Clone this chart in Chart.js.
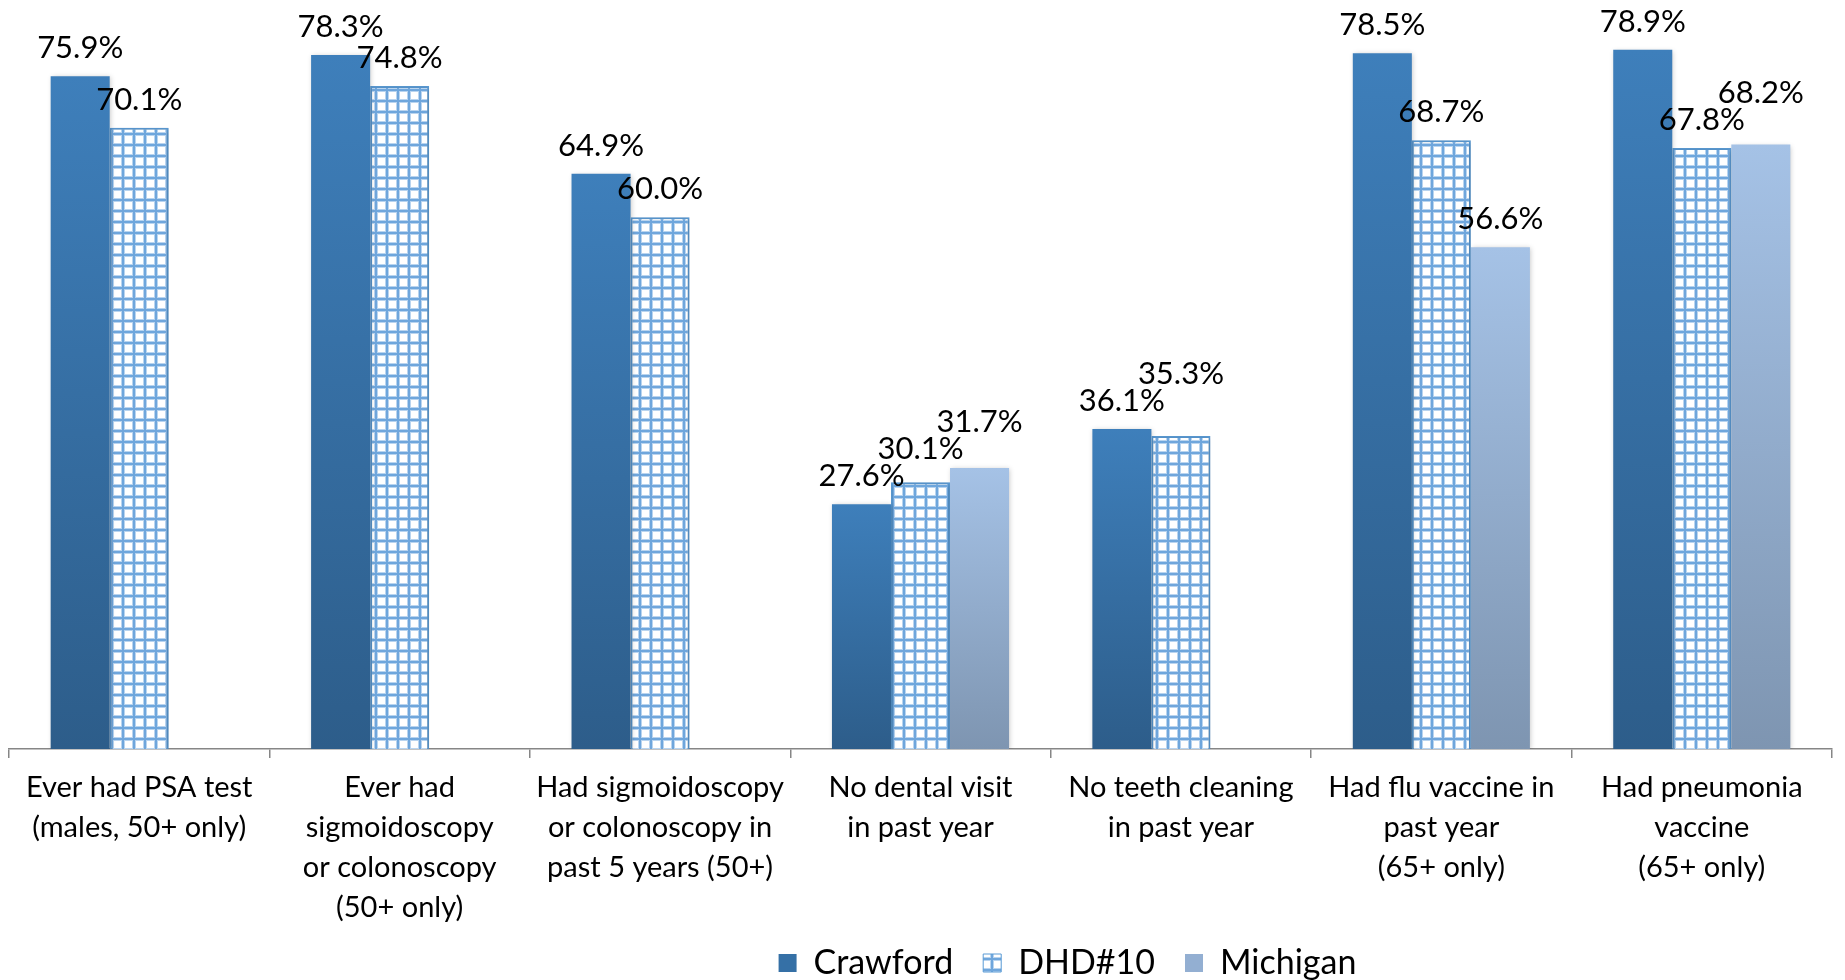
<!DOCTYPE html>
<html>
<head>
<meta charset="utf-8">
<script src="https://cdn.jsdelivr.net/npm/chart.js@4"></script>
<style>
  html, body { margin: 0; padding: 0; background: #fff; }
  #wrap { width: 1845px; height: 980px; }
</style>
</head>
<body>
<div id="wrap"><canvas id="chart" width="1845" height="980"></canvas></div>
<script>
'use strict';

// categories and values
const categories = [
  ['Ever had PSA test', '(males, 50+ only)'],
  ['Ever had', 'sigmoidoscopy', 'or colonoscopy', '(50+ only)'],
  ['Had sigmoidoscopy', 'or colonoscopy in', 'past 5 years (50+)'],
  ['No dental visit', 'in past year'],
  ['No teeth cleaning', 'in past year'],
  ['Had flu vaccine in', 'past year', '(65+ only)'],
  ['Had pneumonia', 'vaccine', '(65+ only)']
];
const seriesNames = ['Crawford', 'DHD#10', 'Michigan'];
const crawford = [75.9, 78.3, 64.9, 27.6, 36.1, 78.5, 78.9];
const dhd10 = [70.1, 74.8, 60.0, 30.1, 35.3, 68.7, 67.8];
const michigan = [null, null, null, 31.7, null, 56.6, 68.2];

const FONT = 'Lato, "Open Sans", sans-serif';
const AXIS_TRIM = 22;

let canvasElem = document.getElementById('chart');
let ctx2d = canvasElem.getContext('2d');

// grid pattern for the DHD#10 bars
function makeGrid() {
  const size = 11;
  const c = document.createElement('canvas');
  c.width = size;
  c.height = size;
  const g = c.getContext('2d');
  g.fillStyle = '#ffffff';
  g.fillRect(0, 0, size, size);
  g.fillStyle = '#b9d4ef';
  g.fillRect(0, 0, 4, size);
  g.fillRect(0, 0, size, 4);
  g.fillStyle = '#6fa6dc';
  g.fillRect(1, 0, 2, size);
  g.fillRect(0, 1, size, 2);
  return ctx2d.createPattern(c, 'repeat');
}
const gridPattern = makeGrid();

// each bar gets its own top-to-bottom gradient
function barGradient(top, bottom) {
  return (ctx) => {
    if (ctx.type !== 'data' || ctx.raw == null) return bottom;
    const y = ctx.chart.scales.y;
    if (!y) return top;
    const g = ctx.chart.ctx.createLinearGradient(0, y.getPixelForValue(ctx.raw), 0, y.getPixelForValue(0));
    g.addColorStop(0, top);
    g.addColorStop(1, bottom);
    return g;
  };
}

const legendFills = ['#3570a6', gridPattern, '#93afd2'];

// soft shadow behind bars
const barShadow = {
  id: 'barShadow',
  beforeDatasetsDraw(chart) {
    const c = chart.ctx;
    c.save();
    c.shadowColor = 'rgba(0,0,0,0.22)';
    c.shadowBlur = 5;
    c.shadowOffsetX = 1;
    c.shadowOffsetY = 1;
  },
  afterDatasetsDraw(chart) {
    chart.ctx.restore();
  }
};

// value labels above bars, pushed up when they collide
const valueLabels = {
  id: 'valueLabels',
  afterDatasetsDraw(chart) {
    const c = chart.ctx;
    c.save();
    c.font = '31px ' + FONT;
    c.fillStyle = '#000';
    c.textAlign = 'center';
    c.textBaseline = 'middle';
    const h = 27;
    chart.data.labels.forEach((_, i) => {
      const placed = [];
      chart.data.datasets.forEach((ds, d) => {
        const v = ds.data[i];
        if (v == null) return;
        const bar = chart.getDatasetMeta(d).data[i];
        const text = v.toFixed(1) + '%';
        const w = c.measureText(text).width;
        let y = bar.y - 28;
        let moved = true;
        while (moved) {
          moved = false;
          for (const p of placed) {
            if (Math.abs(p.x - bar.x) < (p.w + w) / 2 + 2 && Math.abs(p.y - y) < h) {
              y = p.y - h;
              moved = true;
            }
          }
        }
        placed.push({ x: bar.x, y: y, w: w });
        c.fillText(text, bar.x, y);
      });
    });
    c.restore();
  }
};

// legend sits right of centre in the original; the x axis box was trimmed
// so the legend could move up, give the labels their room back
const layoutTweaks = {
  id: 'layoutTweaks',
  afterLayout(chart) {
    chart.legend.left += 147;
    chart.legend.right += 147;
    chart.scales.x.bottom += AXIS_TRIM;
    chart.scales.x.height += AXIS_TRIM;
  }
};

const data = {
  labels: categories,
  datasets: [{
    label: seriesNames[0],
    data: crawford,
    backgroundColor: barGradient('#3e7fbb', '#2d5d8a'),
    borderWidth: 0
  }, {
    label: seriesNames[1],
    data: dhd10,
    backgroundColor: gridPattern,
    borderColor: '#5b9bd5',
    borderWidth: 2
  }, {
    label: seriesNames[2],
    data: michigan,
    backgroundColor: barGradient('#a5c2e6', '#7e95b1'),
    borderWidth: 0
  }]
};

const config = {
  type: 'bar',
  data: data,
  options: {
    responsive: false,
    animation: false,
    categoryPercentage: 0.68,
    barPercentage: 1.0,
    layout: {
      padding: { left: 9, right: 13, top: 40, bottom: -10 }
    },
    plugins: {
      legend: {
        position: 'bottom',
        labels: {
          font: { family: FONT, size: 34 },
          color: '#000',
          boxWidth: 18,
          boxHeight: 18,
          padding: 30,
          generateLabels: (chart) => chart.data.datasets.map((ds, i) => ({
            text: ds.label,
            fillStyle: legendFills[i],
            strokeStyle: i === 1 ? '#5b9bd5' : legendFills[i],
            lineWidth: i === 1 ? 1 : 0,
            hidden: false,
            datasetIndex: i,
            fontColor: '#000'
          }))
        }
      },
      tooltip: { enabled: false }
    },
    scales: {
      x: {
        grid: {
          display: true,
          drawOnChartArea: false,
          drawTicks: true,
          tickLength: 9,
          color: '#868686',
          lineWidth: 1.5
        },
        border: { color: '#868686', width: 1.5 },
        ticks: {
          color: '#000',
          font: { family: FONT, size: 29, lineHeight: 1.38 },
          padding: 10,
          maxRotation: 0,
          autoSkip: false
        },
        afterFit: (scale) => {
          scale.height -= AXIS_TRIM;
        }
      },
      y: {
        display: false,
        min: 0,
        max: 80
      }
    }
  },
  plugins: [barShadow, valueLabels, layoutTweaks]
};

function renderChart() {
  new Chart(canvasElem, config);
}

renderChart();
</script>
</body>
</html>
